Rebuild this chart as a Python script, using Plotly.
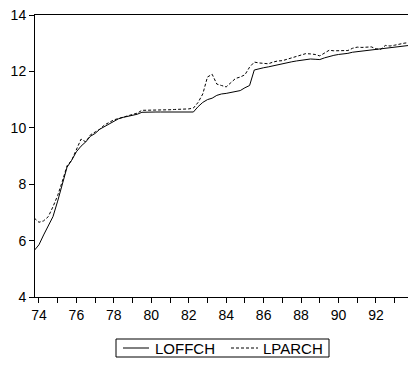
import plotly.graph_objects as go

# Quarterly observation dates (fractional years)
dates = [1973.75 + 0.25 * i for i in range(81)]

loffch = [5.65, 5.85, 6.2, 6.5, 6.85, 7.4, 8.0, 8.6, 8.85, 9.15, 9.35, 9.5,
          9.7, 9.8, 9.95, 10.05, 10.15, 10.25, 10.32, 10.37, 10.41, 10.44, 10.48, 10.55,
          10.56, 10.56, 10.56, 10.56, 10.56, 10.56, 10.56, 10.56, 10.56, 10.56, 10.56,
          10.75, 10.9, 11.0, 11.05, 11.15, 11.2, 11.22, 11.25, 11.28, 11.32, 11.42, 11.5,
          12.05, 12.1, 12.13, 12.16, 12.2, 12.24, 12.27, 12.3, 12.34, 12.37, 12.4, 12.43,
          12.44, 12.43, 12.42, 12.48, 12.53, 12.57, 12.6, 12.61, 12.64, 12.68, 12.7, 12.72,
          12.75, 12.76, 12.78, 12.8, 12.83, 12.84, 12.86, 12.88, 12.9, 12.92]

lparch = [6.8, 6.65, 6.7, 6.85, 7.2, 7.6, 8.1, 8.65, 8.85, 9.2, 9.6, 9.5,
          9.75, 9.85, 9.95, 10.1, 10.2, 10.28, 10.33, 10.38, 10.42, 10.46, 10.52, 10.62,
          10.62, 10.62, 10.63, 10.63, 10.64, 10.64, 10.65, 10.65, 10.66, 10.67, 10.7,
          10.9, 11.2, 11.8, 11.9, 11.55, 11.5, 11.45, 11.6, 11.75, 11.8, 11.88, 12.15,
          12.33, 12.3, 12.28, 12.27, 12.33, 12.37, 12.38, 12.43, 12.47, 12.52, 12.58, 12.63,
          12.62, 12.6, 12.55, 12.65, 12.75, 12.73, 12.73, 12.74, 12.74, 12.82, 12.86, 12.85,
          12.87, 12.87, 12.8, 12.78, 12.92, 12.9, 12.93, 12.97, 13.0, 13.02]

series_names = ["LOFFCH", "LPARCH"]
x_tickvals = [1974, 1976, 1978, 1980, 1982, 1984, 1986, 1988, 1990, 1992]
x_ticktext = ["74", "76", "78", "80", "82", "84", "86", "88", "90", "92"]
y_tickvals = [4, 6, 8, 10, 12, 14]

assert len(loffch) == len(dates) == len(lparch)

FONT = "Liberation Sans, Arial, sans-serif"
W, H = 408, 365
ML, MR, MT, MB = 35, 0, 15, 68
PW, PH = W - ML - MR, H - MT - MB


def px_x(p):
    return (p - ML) / PW


def px_y(p):
    return (H - MB - p) / PH


fig = go.Figure()
fig.add_trace(go.Scatter(x=dates, y=loffch, mode="lines", name=series_names[0],
                         line=dict(color="black", width=1), showlegend=False))
fig.add_trace(go.Scatter(x=dates, y=lparch, mode="lines", name=series_names[1],
                         line=dict(color="black", width=1, dash="3px,2px"),
                         showlegend=False))

# Legend drawn as a boxed key below the plot (EViews style)
ly = px_y(348)
shapes = [
    dict(type="rect", xref="paper", yref="paper", x0=px_x(116), x1=px_x(329),
         y0=px_y(357), y1=px_y(339), line=dict(color="black", width=1),
         fillcolor="white"),
    dict(type="line", xref="paper", yref="paper", x0=px_x(123), x1=px_x(149),
         y0=ly, y1=ly, line=dict(color="black", width=1)),
    dict(type="line", xref="paper", yref="paper", x0=px_x(231), x1=px_x(258),
         y0=ly, y1=ly, line=dict(color="black", width=1, dash="3px,2px")),
]
annotations = [
    dict(text=series_names[0], xref="paper", yref="paper", x=px_x(153), y=ly,
         xanchor="left", yanchor="middle", showarrow=False,
         font=dict(size=15, family=FONT, color="black")),
    dict(text=series_names[1], xref="paper", yref="paper", x=px_x(261), y=ly,
         xanchor="left", yanchor="middle", showarrow=False,
         font=dict(size=15, family=FONT, color="black")),
]

fig.update_layout(
    width=W, height=H,
    margin=dict(l=ML, r=MR, t=MT, b=MB, autoexpand=False),
    paper_bgcolor="white", plot_bgcolor="white",
    font=dict(family=FONT, size=14, color="black"),
    showlegend=False,
    shapes=shapes, annotations=annotations,
    xaxis=dict(range=[1973.79, 1993.71], tickmode="array", tickvals=x_tickvals,
               ticktext=x_ticktext, ticks="outside", ticklen=5, tickcolor="black",
               showline=True, linecolor="black", linewidth=1, mirror=True,
               showgrid=False, zeroline=False,
               minor=dict(tickmode="linear", tick0=1974, dtick=1, ticks="outside",
                          ticklen=5, tickcolor="black", showgrid=False)),
    yaxis=dict(range=[4, 14], tickmode="array", tickvals=y_tickvals,
               ticks="outside", ticklen=5, tickcolor="black",
               showline=True, linecolor="black", linewidth=1, mirror=False,
               showgrid=False, zeroline=False),
)

fig.write_html("out.html")
